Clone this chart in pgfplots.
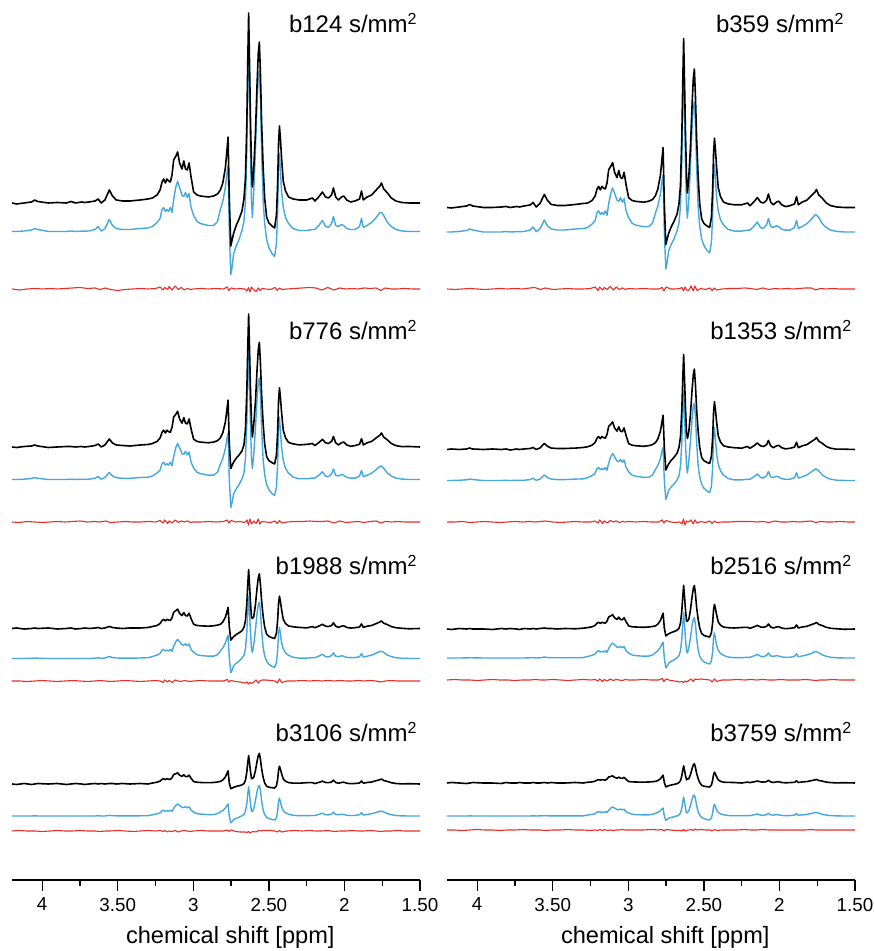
\documentclass[border=0pt]{standalone}
\usepackage{fontspec}
\setmainfont{Liberation Sans}
\usepackage{pgfplots}
\pgfplotsset{compat=1.18}
\usepackage{pgfplotstable}
\definecolor{fitblue}{RGB}{68,168,222}
\definecolor{resred}{RGB}{232,45,38}

% heights above each trace's baseline (units: 1 = 1/880 of axis height)
\pgfplotstableread{
x k1 u1 k2 u2 k3 u3 k4 u4
4.200 0 0 0 0 0 0 0 0
4.170 -1 0 -0.5 0 0.5 0 -0.5 0
4.120 0 0.5 0.5 0.3 -0.5 0 0.5 0
4.070 1 1.5 1 1 0 0.2 -0.5 0
4.050 3 3 2 2 0.5 0.5 0 0.2
4.030 1.5 2 1 1.2 0 0.3 0.5 0
3.960 0 0 -0.5 0 0.5 0 0 0
3.900 0.5 0 0 0 -0.5 0 0.5 0
3.840 0 0 0.5 0 0 0 -0.5 0
3.810 1.5 0.5 0.5 0.3 0.5 0 0 0
3.780 0 0 0 0 -0.5 0 0.5 0
3.740 1 0.3 0.5 0.2 0 0 0 0
3.720 0.5 0.3 0 0.2 0.5 0 -0.5 0
3.690 1 0.5 0.5 0.3 0 0 0 0
3.650 2 2 1.5 1.2 0.5 0.3 0.5 0
3.630 4 5 3 3 1 0.8 0 0.3
3.610 0 0.5 0 0.3 0 0 0.5 0
3.585 3 3 2 2 0.5 0.5 0 0
3.556 13 12 8 7 2 2 0.5 0.6
3.535 7 6 4 3.6 1 1 0.5 0.3
3.510 3 3 2 1.8 0.5 0.5 0 0.2
3.470 2 2 1.5 1.2 0 0.3 0.5 0.1
3.420 2 2 1 1.2 0.5 0.3 0 0.1
3.351 3 3 2 2 0.5 0.5 0.5 0.2
3.300 4 3.5 2.5 2.2 1 0.8 0 0.3
3.270 5 5 3.5 3.6 2 2 1 1.2
3.240 8 9 5.6 6.5 3 3.4 1.8 2.2
3.220 13 13 9 9.4 5 5 2.9 3.1
3.207 21 22 14.7 15.8 8 8.4 4.6 5.3
3.197 24 24 16.8 17.3 9.1 9.1 5.3 5.8
3.185 20 20 14 14.4 7.6 7.6 4.4 4.8
3.175 24 22 16.8 15.8 9.1 8.4 5.3 5.3
3.164 22 20 15.4 14.4 8.4 7.6 4.8 4.8
3.152 21 24 14.7 17.3 8 9.1 4.6 5.8
3.141 28 19 19.6 13.7 10.6 7.2 6.2 4.6
3.130 43 32 30 23 16.3 12.2 9.5 7.7
3.115 47 45 32.9 32.4 17.9 17.1 10.3 10.8
3.104 51 50 35.7 36 19.4 19 11.2 12
3.091 40 44 28 31.7 15.2 16.7 8.8 10.6
3.075 34 36 23.8 25.9 12.9 13.7 7.5 8.6
3.063 42 35 29.4 25.2 16 13.3 9.2 8.4
3.052 34 39 23.8 28.1 12.9 14.8 7.5 9.4
3.040 33 34 23.1 24.5 12.5 12.9 7.3 8.2
3.028 40 38 28 27.4 15.2 14.4 8.8 9.1
3.015 26 24 18.2 17.3 9.9 9.1 5.7 5.8
2.998 11 16 7.7 11.5 4.2 6.1 2.4 3.8
2.975 8 10 5.6 7.2 3 3.8 1.8 2.4
2.954 7 8 4.9 5.8 2.7 3 1.5 1.9
2.900 6 6 4.2 4.3 2.3 2.3 1.3 1.4
2.866 7 6 4.9 4.3 2.7 2.3 1.5 1.4
2.840 9 10 6.3 7.2 3.4 3.8 2 2.4
2.821 13 22 9.2 15.4 4.2 7.7 2.6 4
2.805 20 30 14.2 21 6.4 10.5 4 5.4
2.788 35 44 24.9 30.8 11.2 15.4 7 7.9
2.778 52 58 36.9 40.6 16.6 20.3 10.4 10.4
2.770 66 66 46.9 46.2 21.1 23.1 13.2 11.9
2.762 5 0 3.6 0 1.6 0 1 0
2.752 -43 -43 -21.5 -28 -11.6 -14.2 -4.7 -6.9
2.745 -38 -37 -19 -24 -10.3 -12.2 -4.2 -5.9
2.733 -30 -22 -15 -14.3 -8.1 -7.3 -3.3 -3.5
2.715 -22 -14 -11 -9.1 -5.9 -4.6 -2.4 -2.2
2.700 -17 -9 -8.5 -5.9 -4.6 -3 -1.9 -1.4
2.678 -8 1 -4 0.7 -2.2 0.3 -0.9 0.2
2.665 4 10 2 6.5 1.1 3.3 0.4 1.6
2.655 25 30 17.5 21 7.8 9.9 3.8 4.7
2.646 80 80 56 56 24.8 26.4 12 12.4
2.640 140 140 98 98 43.4 46.2 21 21.7
2.634 190 189 133 132 58.9 62.4 28.5 29.3
2.628 140 140 98 98 43.4 46.2 21 21.7
2.622 85 80 59.5 56 26.4 26.4 12.8 12.4
2.615 35 30 24.5 21 10.9 9.9 5.3 4.7
2.609 16 14 10 11 10 6 5.5 4.5
2.600 35 40 22.8 25.2 11.9 14 6.7 7.6
2.589 70 81 45.5 51 23.8 28.4 13.3 15.4
2.578 120 130 78 81.9 40.8 45.5 22.8 24.7
2.570 150 155 97.5 97.7 51 54.3 28.5 29.5
2.563 161 161 104.7 101.4 54.7 56.4 30.6 30.6
2.556 130 135 84.5 85 44.2 47.3 24.7 25.7
2.548 80 80 52 50.4 27.2 28 15.2 15.2
2.538 36 31 23.4 19.5 12.2 10.9 6.8 5.9
2.528 5 8 3.3 5 1.7 2.8 1 1.5
2.515 -14 -8 -9.5 -5.1 -5.6 -2.9 -2.2 -1.3
2.500 -20 -16 -13.6 -10.2 -8 -5.8 -3.2 -2.6
2.480 -23 -22 -15.6 -14.1 -9.2 -7.9 -3.7 -3.5
2.462 -25 -25 -17 -16 -10 -9 -4 -4
2.450 -12 -12 -8.2 -7.7 -4.8 -4.3 -1.9 -1.9
2.442 20 20 15.4 16 8.4 8 4.6 4.6
2.436 60 65 46.2 52 25.2 26 13.8 15
2.430 77 78 59.3 62.4 32.3 31.2 17.7 17.9
2.424 65 62 50 49.6 27.3 24.8 15 14.3
2.416 45 40 34.7 32 18.9 16 10.4 9.2
2.405 22 24 16.9 19.2 9.2 9.6 5.1 5.5
2.390 12 14 9.2 11.2 5 5.6 2.8 3.2
2.370 6 8 4.6 6.4 2.5 3.2 1.4 1.8
2.340 4 3 3.1 2.4 1.7 1.2 0.9 0.7
2.300 3 1 2.1 0.7 1.1 0.4 0.8 0.3
2.250 3 1 2.6 0.7 0.6 0.4 1.3 0.3
2.212 5 2 3.5 1.4 1.9 0.8 1.3 0.5
2.195 2 2 1.4 1.4 0.8 0.8 0.5 0.5
2.165 7 7 4.9 4.9 2.7 2.7 1.8 1.8
2.146 11 11 7.7 7.7 4.2 4.2 2.8 2.8
2.125 6 5 4.2 3.5 2.3 1.9 1.5 1.3
2.106 5 4 3.5 2.8 1.9 1.5 1.3 1
2.085 8 8 5.6 5.6 3 3 2 2
2.073 15 15 10.5 10.5 5.7 5.7 3.8 3.8
2.058 6 6 4.2 4.2 2.3 2.3 1.5 1.5
2.040 3 5 2.1 3.5 1.1 1.9 0.8 1.3
2.020 6 7 4.2 4.9 2.3 2.7 1.5 1.8
2.005 7 6 4.9 4.2 2.7 2.3 1.8 1.5
1.985 3 3 2.1 2.1 1.1 1.1 0.8 0.8
1.960 1 2 0.7 1.4 0.4 0.8 0.3 0.5
1.930 2 2 1.4 1.4 0.8 0.8 0.5 0.5
1.900 4 5 2.8 3.5 1.5 1.9 1 1.3
1.887 12 13 8.4 9.1 4.6 4.9 3 3.3
1.875 3 4 2.1 2.8 1.1 1.5 0.8 1
1.850 6 6 4.2 4.2 2.3 2.3 1.5 1.5
1.820 8 9 5.6 6.3 3 3.4 2 2.3
1.790 13 14 9.1 9.8 4.9 5.3 3.3 3.5
1.765 17 19 11.9 13.3 6.5 7.2 4.3 4.8
1.755 20 19 14 13.3 7.6 7.2 5 4.8
1.740 14 16 9.8 11.2 5.3 6.1 3.5 4
1.715 10 9 7 6.3 3.8 3.4 2.5 2.3
1.690 5 5 3.5 3.5 1.9 1.9 1.3 1.3
1.660 2 2 1.4 1.4 0.8 0.8 0.5 0.5
1.620 0.5 0.5 0.4 0.4 0.2 0.2 0.1 0.1
1.570 0 0 0.5 0 -0.3 0 0.3 0
1.500 0 0 0 0 0 0 0 0
}\leftspec

\pgfplotstableread{
x k1 u1 k2 u2 k3 u3 k4 u4
4.200 0 0 0 0 0 0 0 0
4.170 -0.5 0 0.5 0 -0.5 0 0.5 0
4.120 0.5 0.5 0 0.2 0.5 0 0 0
4.070 1.5 1.5 0.5 0.7 0 0.1 -0.5 0
4.050 3 3 1.5 1.4 0.5 0.2 0 0.1
4.030 1.5 2 0.5 0.9 0 0.2 0.5 0
3.960 0 0 0 0 0 0 0 0
3.900 0 0 0.5 0 -0.5 0 0 0
3.840 0.5 0 0 0 0.5 0 -0.5 0
3.810 1 0.5 0.5 0.2 0 0 0.5 0
3.780 0 0 -0.5 0 0.5 0 0 0
3.740 1 0.3 0.5 0.1 0 0 0 0
3.720 0.5 0.3 0 0.1 -0.5 0 0.5 0
3.690 1.5 0.5 0.5 0.2 0.5 0 0 0
3.650 2.5 2 1 0.9 0 0.2 0 0
3.630 5 5 2 2.3 0.5 0.4 0.5 0.2
3.610 0.5 0.5 0 0.2 0 0 0 0
3.585 4 3 1.5 1.4 0.5 0.2 0 0.1
3.556 13 12 6 5.5 1 1 0.5 0.4
3.535 7 6 3.2 2.8 0.5 0.5 0 0.2
3.510 3 3 1.4 1.4 0.5 0.2 0.5 0.1
3.470 2 2 1 0.9 0 0.2 0 0.1
3.420 2 2 1 0.9 0.5 0.2 0 0.1
3.351 3 3 1.4 1.4 0.2 0.2 0.5 0.1
3.300 4 3.5 2 1.6 0.8 0.4 0 0.1
3.270 4.4 4.4 2.7 2.7 1.4 1.5 0.7 0.9
3.240 7 7.9 4.3 4.9 2.2 2.7 1.1 1.6
3.220 11.4 11.4 7 7 3.6 3.9 1.8 2.3
3.207 18.5 19.4 11.3 11.9 5.9 6.6 2.9 4
3.197 21.1 21.1 13 13 6.7 7.2 3.4 4.3
3.185 17.6 17.6 10.8 10.8 5.6 6 2.8 3.6
3.175 21.1 19.4 13 11.9 6.7 6.6 3.4 4
3.164 19.4 17.6 11.9 10.8 6.2 6 3.1 3.6
3.152 18.5 21.1 11.3 13 5.9 7.2 2.9 4.3
3.141 24.6 16.7 15.1 10.3 7.8 5.7 3.9 3.4
3.130 37.8 28.2 23.2 17.3 12 9.6 6 5.8
3.115 41.4 39.6 25.4 24.3 13.2 13.5 6.6 8.1
3.104 44.9 44 27.5 27 14.3 15 7.1 9
3.091 35.2 38.7 21.6 23.8 11.2 13.2 5.6 7.9
3.075 29.9 31.7 18.4 19.4 9.5 10.8 4.8 6.5
3.063 37 30.8 22.7 18.9 11.8 10.5 5.9 6.3
3.052 29.9 34.3 18.4 21.1 9.5 11.7 4.8 7
3.040 29 29.9 17.8 18.4 9.2 10.2 4.6 6.1
3.028 35.2 33.4 21.6 20.5 11.2 11.4 5.6 6.8
3.015 22.9 21.1 14 13 7.3 7.2 3.6 4.3
2.998 9.7 14.1 5.9 8.6 3.1 4.8 1.5 2.9
2.975 7 8.8 4.3 5.4 2.2 3 1.1 1.8
2.954 6.2 7 3.8 4.3 2 2.4 1 1.4
2.900 5.3 5.3 3.2 3.2 1.7 1.8 0.8 1.1
2.866 6.2 5.3 3.8 3.2 2 1.8 1 1.1
2.840 7.9 8.8 4.9 5.4 2.5 3 1.3 1.8
2.821 11.8 18.9 6.8 11 3.1 5.3 1.6 2.6
2.805 18.2 25.8 10.4 15 4.8 7.2 2.4 3.6
2.788 31.9 37.8 18.2 22 8.4 10.6 4.2 5.3
2.778 47.3 49.9 27 29 12.5 13.9 6.2 7
2.770 60 56.8 34.3 33 15.8 15.8 7.9 7.9
2.762 4.6 0 2.6 0 1.2 0 0.6 0
2.752 -37 -37 -20.6 -18.9 -6.9 -9.9 -3.9 -4.3
2.745 -32.7 -31.8 -18.2 -16.3 -6.1 -8.5 -3.4 -3.7
2.733 -25.8 -18.9 -14.4 -9.7 -4.8 -5.1 -2.7 -2.2
2.715 -18.9 -12 -10.6 -6.2 -3.5 -3.2 -2 -1.4
2.700 -14.6 -7.7 -8.2 -4 -2.7 -2.1 -1.5 -0.9
2.678 -6.9 0.9 -3.8 0.4 -1.3 0.2 -0.7 0.1
2.665 3.4 8.6 1.9 4.4 0.6 2.3 0.4 1
2.655 22.3 26.1 12.5 14.4 5.8 7.2 2.3 3
2.646 71.2 69.6 40 38.4 18.4 19.2 7.2 8
2.640 124.6 121.8 70 67.2 32.2 33.6 12.6 14
2.634 169 164.4 95 90.7 43.7 45.4 17.1 18.9
2.628 124.6 121.8 70 67.2 32.2 33.6 12.6 14
2.622 75.7 69.6 42.5 38.4 19.6 19.2 7.7 8
2.615 31.2 26.1 17.5 14.4 8 7.2 3.2 3
2.609 14.5 14 11 7.5 8 5 4 3.5
2.600 30.1 32.4 17.5 19.2 9.5 10 4.2 5.2
2.589 60.2 65.6 35 38.9 18.9 20.3 8.4 10.5
2.578 103.2 105.3 60 62.4 32.4 32.5 14.4 16.9
2.570 129 125.6 75 74.4 40.5 38.8 18 20.2
2.563 138.5 130.4 80.5 77.3 43.5 40.3 19.3 20.9
2.556 111.8 109.4 65 64.8 35.1 33.8 15.6 17.6
2.548 68.8 64.8 40 38.4 21.6 20 9.6 10.4
2.538 31 25.1 18 14.9 9.7 7.8 4.3 4
2.528 4.3 6.5 2.5 3.8 1.4 2 0.6 1
2.515 -11.2 -6.7 -7.8 -3.8 -4.5 -1.9 -2.2 -1.3
2.500 -16 -13.4 -11.2 -7.7 -6.4 -3.8 -3.2 -2.6
2.480 -18.4 -18.5 -12.9 -10.6 -7.4 -5.3 -3.7 -3.5
2.462 -20 -21 -14 -12 -8 -6 -4 -4
2.450 -9.6 -10.1 -6.7 -5.8 -3.8 -2.9 -1.9 -1.9
2.442 18 17.4 12.4 13.6 6.4 6.4 2.8 3
2.436 54 56.6 37.2 44.2 19.2 20.8 8.4 9.8
2.430 69.3 67.9 47.7 53 24.6 25 10.8 11.7
2.424 58.5 53.9 40.3 42.2 20.8 19.8 9.1 9.3
2.416 40.5 34.8 27.9 27.2 14.4 12.8 6.3 6
2.405 19.8 20.9 13.6 16.3 7 7.7 3.1 3.6
2.390 10.8 12.2 7.4 9.5 3.8 4.5 1.7 2.1
2.370 5.4 7 3.7 5.4 1.9 2.6 0.8 1.2
2.340 3.6 2.6 2.5 2 1.3 1 0.6 0.5
2.300 2.7 0.9 1.8 0.6 1 0.3 0.5 0.2
2.250 2.7 0.9 1.3 0.6 1.5 0.3 0 0.2
2.212 4.5 1.8 3 1.2 1.7 0.7 0.9 0.4
2.195 1.8 1.8 1.2 1.2 0.7 0.7 0.4 0.4
2.165 6.3 6.3 4.2 4.2 2.3 2.3 1.3 1.3
2.146 9.9 9.9 6.6 6.6 3.6 3.6 2 2
2.125 5.4 4.5 3.6 3 2 1.7 1.1 0.9
2.106 4.5 3.6 3 2.4 1.7 1.3 0.9 0.7
2.085 7.2 7.2 4.8 4.8 2.6 2.6 1.4 1.4
2.073 13.5 13.5 9 9 5 5 2.7 2.7
2.058 5.4 5.4 3.6 3.6 2 2 1.1 1.1
2.040 2.7 4.5 1.8 3 1 1.7 0.5 0.9
2.020 5.4 6.3 3.6 4.2 2 2.3 1.1 1.3
2.005 6.3 5.4 4.2 3.6 2.3 2 1.3 1.1
1.985 2.7 2.7 1.8 1.8 1 1 0.5 0.5
1.960 0.9 1.8 0.6 1.2 0.3 0.7 0.2 0.4
1.930 1.8 1.8 1.2 1.2 0.7 0.7 0.4 0.4
1.900 3.6 4.5 2.4 3 1.3 1.7 0.7 0.9
1.887 10.8 11.7 7.2 7.8 4 4.3 2.2 2.3
1.875 2.7 3.6 1.8 2.4 1 1.3 0.5 0.7
1.850 5.4 5.4 3.6 3.6 2 2 1.1 1.1
1.820 7.2 8.1 4.8 5.4 2.6 3 1.4 1.6
1.790 11.7 12.6 7.8 8.4 4.3 4.6 2.3 2.5
1.765 15.3 17.1 10.2 11.4 5.6 6.3 3.1 3.4
1.755 18 17.1 12 11.4 6.6 6.3 3.6 3.4
1.740 12.6 14.4 8.4 9.6 4.6 5.3 2.5 2.9
1.715 9 8.1 6 5.4 3.3 3 1.8 1.6
1.690 4.5 4.5 3 3 1.7 1.7 0.9 0.9
1.660 1.8 1.8 1.2 1.2 0.7 0.7 0.4 0.4
1.620 0.5 0.5 0.3 0.3 0.2 0.2 0.1 0.1
1.570 0 0 0.3 0 -0.3 0 0.3 0
1.500 0 0 0 0 0 0 0 0
}\rightspec

% residuals: left r1..r4, right s1..s4
\pgfplotstableread{
x r1 r2 r3 r4 s1 s2 s3 s4
4.20 0 0 0 0 0 0 0 0
4.15 -1 -0.5 0 0.5 -0.5 0 0.5 0
4.10 0 0.5 -0.5 0 0 0.5 0 -0.5
4.05 0.5 0 0 0 0.5 -0.5 0 0
4.00 0 -0.5 0.5 -0.5 0 0 -0.5 0.5
3.95 0.5 0 0 0 -0.5 0.5 0 0
3.90 0 0.5 -0.5 0.5 0 0 0.5 0
3.85 0.5 0 0 0 0.5 -0.5 0 -0.5
3.80 1 0.5 0.5 0 0 0 0 0
3.75 1.5 1 0 0.5 0.5 0.5 -0.5 0
3.70 0.5 0 -0.5 0 0 0 0 0.5
3.65 1 0.5 0 0 1 0.5 0 0
3.62 -0.5 0 0.5 -0.5 1.5 0 0.5 0
3.58 1 1 0 0 -0.5 0.5 0 0
3.55 -0.5 -0.5 -0.5 0 1 1 0 -0.5
3.50 -1.5 0 0 0.5 -0.5 0 0.5 0
3.45 -0.5 0.5 0.5 0 0 -0.5 0 0
3.40 0 0 0 -0.5 0.5 0 -0.5 0.5
3.35 0.5 0 -0.5 0 0 0.5 0 0
3.30 0 0.5 0 0.5 0 0 0.5 0
3.25 0.5 0 0.5 0 0.5 0 0 -0.5
3.22 2 1.5 0 0.5 2 1 0.5 0
3.20 -1 -1 -1.5 -0.5 -1.5 -1 -1 -0.5
3.19 1.5 2 1 0.5 2 2 1 0.5
3.17 -0.5 -1.5 -1 -1 -1 -1.5 -1.5 -0.5
3.16 2.5 1 0.5 0 1.5 1 0.5 0.5
3.14 -1 -1 -1.5 -0.5 -0.5 -1 -1 -0.5
3.12 3 2 1 0.5 2.5 1.5 1 0
3.10 -0.5 -0.5 0 -1 -1 0 -0.5 -0.5
3.08 1.5 1 -0.5 0 2 1 0.5 0
3.06 -1 0 0.5 0.5 -0.5 -0.5 0 0
3.04 0.5 1 0 0 1 0.5 -0.5 0.5
3.02 -0.5 -0.5 -0.5 -0.5 -0.5 0 0.5 0
3.00 0 0 0 0 0.5 0.5 0 0
2.95 0.5 0 0.5 0.5 0 0 0 0
2.90 0 0.5 0 0 0.5 0.5 0.5 0
2.85 0.5 0 0 0 0 0 0 0.5
2.80 0 0.5 0 0 0 0 0 0
2.775 2 2 1.5 1 1.5 2 1.5 0.5
2.765 -1.5 -1 -1 -0.5 -2 -1 -1.5 -1
2.75 1 1.5 0.5 1 2 1.5 1 0.5
2.72 0 0 -0.5 -0.5 0 0 -0.5 0
2.69 0.5 0.5 -1 -1 0 -0.5 -1 -0.5
2.66 0 -0.5 -2 -1 0.5 0 -2 -0.5
2.645 -2 2 -1 -1.5 1.5 -2 -1.5 -1
2.635 1.5 -3 -3 -0.5 -2 3 -2.5 0.5
2.625 -3 3 -1.5 -2 2 -3 -1 -1
2.615 2 -2 -2.5 -1 -1 1 -2 -0.5
2.60 -1 1 -1 -0.5 -1.5 0 -0.5 0
2.585 -2.5 -1.5 1 -1 3 2 1 0.5
2.57 1 3 -2 0.5 -2 -2 -1.5 -0.5
2.56 -1.5 -2 0 0 3 2 1 1
2.545 0.5 0.5 1 0.5 -1.5 -1 0.5 0
2.52 0 0 1 0.5 0.5 0.5 1 0.5
2.49 -0.5 -0.5 0.5 0.5 -0.5 -0.5 0.5 0
2.46 1.5 1 0 0 1 1 0 0
2.445 -1.5 -1.5 -2 -1 -1.5 -1.5 -2 -1
2.43 1 1.5 2 0.5 1 1 1 0.5
2.415 -0.5 -1 -1.5 -1 -1 -0.5 -1.5 -0.5
2.38 0 0 0 0 0 0 0 0
2.33 0.5 0.5 0 0.5 0.5 0 0 0
2.28 1 0.5 0.5 0 0.5 0.5 0.5 0
2.23 1.5 1 0 0.5 1 0.5 0 0.5
2.19 1 0.5 0.5 0 0.5 0.5 0.5 0
2.15 -1 0.5 0 0 -0.5 0 0 0
2.11 1.5 1 0.5 0.5 1 0.5 0.5 0.5
2.07 -1 -1 0 -0.5 -0.5 -0.5 0 0
2.03 1 1 0.5 0 0.5 1 0 0
1.99 0 -0.5 0 0 0 0 0.5 0
1.95 0.5 0 0 0.5 0.5 0 0 0
1.91 0 0.5 0.5 0 0 0.5 0 0
1.87 1 -0.5 0 0 0.5 0 0 0
1.83 0.5 0.5 0.5 0.5 1 0.5 0.5 0
1.79 1 1 0 0 1 1 0 0.5
1.76 -1.5 -1 -1 -0.5 -1 -0.5 -0.5 0
1.73 1 0.5 0 0 0.5 0.5 0 0
1.69 0 0 0.5 0 0 0 0 0
1.65 0 0.5 0 0.5 0.5 0 0.5 0
1.60 0.5 0 0 0 0 0.5 0 0
1.55 0 0 0 0 0 0 0 0
1.50 0 0 0 0 0 0 0 0
}\resid

\pgfplotsset{
  spec/.style={
    scale only axis, width=204pt, height=440pt,
    xmin=1.5, xmax=4.2, x dir=reverse, ymin=-880, ymax=0,
    axis x line*=bottom, axis y line=none,
    xtick={1.5,2,2.5,3,3.5,4}, xticklabels={1.50,2,2.50,3,3.50,4},
    minor xtick={1.75,2.25,2.75,3.25,3.75},
    tick align=outside, major tick length=5.5pt, minor tick length=3pt,
    every tick/.style={black, line width=0.7pt},
    axis line style={line width=0.7pt},
    ticklabel style={font=\fontsize{9.4}{10}\selectfont},
    /pgf/number format/assume math mode=true,
    xlabel={chemical shift [ppm]},
    xlabel style={font=\fontsize{11.8}{13}\selectfont, at={(axis description cs:0.535,0)}, anchor=center, yshift=-28.5pt},
    clip=false,
    every axis plot/.append style={line join=round},
  },
  blk/.style={black, line width=0.8pt},
  blu/.style={fitblue, line width=0.7pt},
  rd/.style={resred, line width=0.55pt},
}
\tikzset{lab/.style={anchor=base east, inner sep=0pt, font=\fontsize{12}{14}\selectfont}}

\begin{document}
\begin{tikzpicture}
\useasboundingbox (0,0) rectangle (436.5pt,475.5pt);
\begin{axis}[spec, at={(6pt,35.5pt)}, anchor=south west]
  \addplot[blu] table[x=x, y expr=\thisrow{u1}-231.5] {\leftspec};
  \addplot[blk] table[x=x, y expr=\thisrow{k1}-203] {\leftspec};
  \addplot[rd]  table[x=x, y expr=\thisrow{r1}-289] {\resid};
  \addplot[blu] table[x=x, y expr=\thisrow{u2}-479.5] {\leftspec};
  \addplot[blk] table[x=x, y expr=\thisrow{k2}-447] {\leftspec};
  \addplot[rd]  table[x=x, y expr=\thisrow{r2}-522] {\resid};
  \addplot[blu] table[x=x, y expr=\thisrow{u3}-658.5] {\leftspec};
  \addplot[blk] table[x=x, y expr=\thisrow{k3}-628.5] {\leftspec};
  \addplot[rd]  table[x=x, y expr=\thisrow{r3}-681] {\resid};
  \addplot[blu] table[x=x, y expr=\thisrow{u4}-816] {\leftspec};
  \addplot[blk] table[x=x, y expr=\thisrow{k4}-784] {\leftspec};
  \addplot[rd]  table[x=x, y expr=\thisrow{r4}-831] {\resid};
  \node[lab] at (axis cs:1.513,-33) {b124 s/mm\textsuperscript{2}};
  \node[lab] at (axis cs:1.513,-340) {b776 s/mm\textsuperscript{2}};
  \node[lab] at (axis cs:1.513,-575) {b1988 s/mm\textsuperscript{2}};
  \node[lab] at (axis cs:1.513,-742) {b3106 s/mm\textsuperscript{2}};
\end{axis}
\begin{axis}[spec, at={(223.5pt,35.5pt)}, anchor=south west]
  \addplot[blu] table[x=x, y expr=\thisrow{u1}-232] {\rightspec};
  \addplot[blk] table[x=x, y expr=\thisrow{k1}-207.5] {\rightspec};
  \addplot[rd]  table[x=x, y expr=\thisrow{s1}-289] {\resid};
  \addplot[blu] table[x=x, y expr=\thisrow{u2}-480.5] {\rightspec};
  \addplot[blk] table[x=x, y expr=\thisrow{k2}-449.5] {\rightspec};
  \addplot[rd]  table[x=x, y expr=\thisrow{s2}-522] {\resid};
  \addplot[blu] table[x=x, y expr=\thisrow{u3}-658] {\rightspec};
  \addplot[blk] table[x=x, y expr=\thisrow{k3}-629] {\rightspec};
  \addplot[rd]  table[x=x, y expr=\thisrow{s3}-680] {\resid};
  \addplot[blu] table[x=x, y expr=\thisrow{u4}-816] {\rightspec};
  \addplot[blk] table[x=x, y expr=\thisrow{k4}-783] {\rightspec};
  \addplot[rd]  table[x=x, y expr=\thisrow{s4}-830] {\resid};
  \node[lab] at (axis cs:1.566,-33) {b359 s/mm\textsuperscript{2}};
  \node[lab] at (axis cs:1.515,-340) {b1353 s/mm\textsuperscript{2}};
  \node[lab] at (axis cs:1.515,-575) {b2516 s/mm\textsuperscript{2}};
  \node[lab] at (axis cs:1.515,-742) {b3759 s/mm\textsuperscript{2}};
\end{axis}
\end{tikzpicture}
\end{document}
